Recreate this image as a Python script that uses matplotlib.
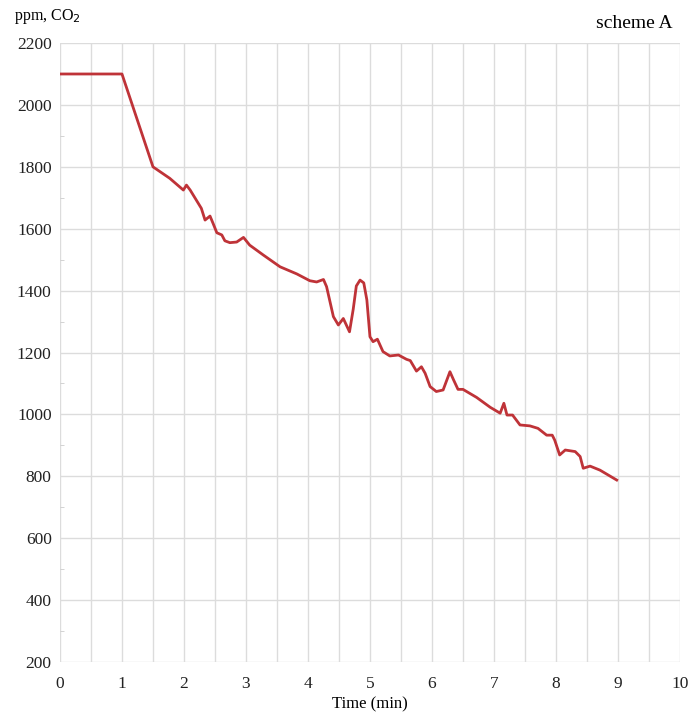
import matplotlib.pyplot as plt
from matplotlib.ticker import MultipleLocator

# время, мин
time_min = [0.0, 1.0, 1.5, 1.77, 1.99, 2.04, 2.10, 2.28, 2.34, 2.42, 2.47, 2.53,
            2.61, 2.66, 2.74, 2.85, 2.96, 3.06, 3.28, 3.55, 3.82, 4.03, 4.14,
            4.25, 4.30, 4.41, 4.49, 4.57, 4.67, 4.73, 4.78, 4.84, 4.90, 4.95, 5.00,
            5.05, 5.12, 5.21, 5.32, 5.46, 5.59, 5.65, 5.75, 5.83, 5.89, 5.97,
            6.07, 6.18, 6.29, 6.35, 6.42, 6.50, 6.72, 6.94, 7.10, 7.16, 7.21,
            7.30, 7.42, 7.58, 7.71, 7.85, 7.94, 7.98, 8.06, 8.15, 8.31, 8.39,
            8.44, 8.55, 8.71, 8.98]
# концентрация CO2, ppm
co2_ppm = [2100, 2100, 1800, 1763, 1725, 1741, 1725, 1666, 1628, 1641, 1617, 1587,
           1580, 1561, 1555, 1557, 1572, 1547, 1515, 1477, 1454, 1432, 1428,
           1436, 1413, 1316, 1289, 1310, 1267, 1340, 1415, 1434, 1425, 1370, 1251,
           1235, 1243, 1203, 1189, 1192, 1178, 1174, 1140, 1154, 1133, 1090,
           1074, 1079, 1138, 1111, 1081, 1081, 1055, 1023, 1004, 1036, 998,
           998, 966, 963, 955, 933, 933, 917, 869, 885, 880, 864,
           826, 833, 820, 788]

plt.rcParams['font.family'] = ['Liberation Serif', 'DejaVu Serif']

fig = plt.figure(figsize=(6.91, 7.15), dpi=100)
ax = fig.add_axes([0.0868, 0.0741, 0.8972, 0.8657])

ax.plot(time_min, co2_ppm, color='#bf3338', linewidth=2.0,
        solid_joinstyle='round')

ax.set_xlim(0, 10)
ax.set_ylim(200, 2200)
ax.xaxis.set_major_locator(MultipleLocator(1))
ax.xaxis.set_minor_locator(MultipleLocator(0.5))
ax.yaxis.set_major_locator(MultipleLocator(200))
ax.yaxis.set_minor_locator(MultipleLocator(100))

ax.grid(True, which='major', color='#dcdcdc', linewidth=1.0)
ax.grid(True, which='minor', axis='x', color='#dcdcdc', linewidth=1.0)
for s in ax.spines.values():
    s.set_visible(False)
ax.tick_params(which='both', length=0, labelsize=12.5, colors='#222222')
ax.tick_params(axis='y', which='minor', length=3, color='#cccccc', direction='in')
ax.tick_params(axis='x', which='both', pad=10)
ax.tick_params(axis='y', which='major', pad=6)
ax.set_axisbelow(True)

ax.set_xlabel('Time (min)', fontsize=12, labelpad=3)
fig.text(0.02, 0.977, 'ppm, CO$_2$', fontsize=11.5, ha='left', va='center')
fig.text(0.973, 0.967, 'scheme A', fontsize=14, ha='right', va='center')

plt.savefig('out.png')
plt.close()
